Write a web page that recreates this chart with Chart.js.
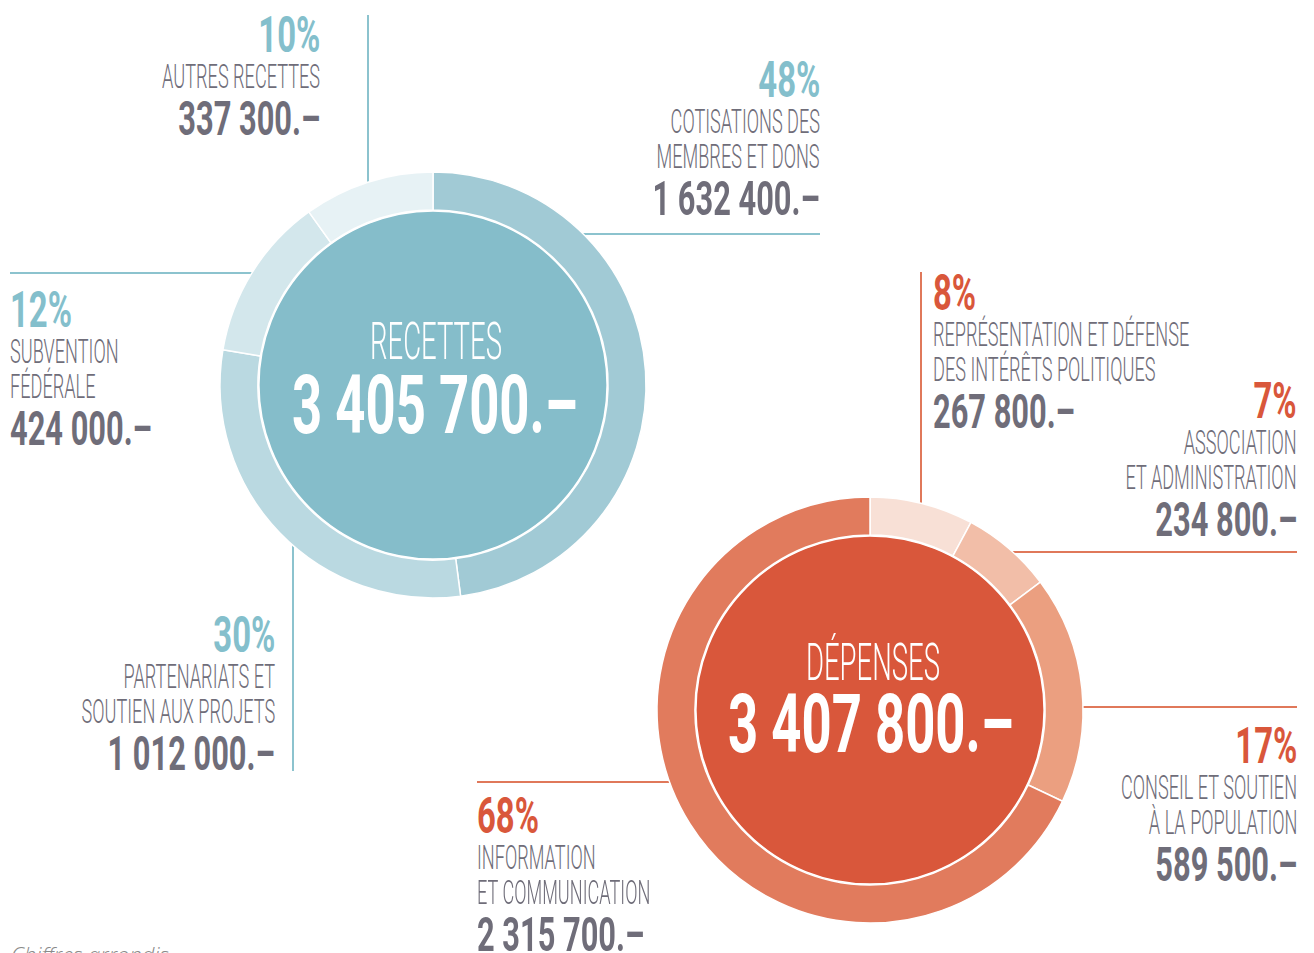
<!DOCTYPE html>
<html>
<head>
<meta charset="utf-8">
<script src="https://cdn.jsdelivr.net/npm/chart.js@4.4.1/dist/chart.umd.min.js"></script>
<style>
  body { margin: 0; background: #fff; width: 1314px; height: 953px; overflow: hidden; position: relative; font-family: Roboto, sans-serif; }
  .t { position: absolute; white-space: nowrap; }
  .ln { position: absolute; }
  canvas { position: absolute; }
</style>
</head>
<body>
<canvas id="rec" width="440" height="440" style="left:213px;top:165px"></canvas>
<canvas id="dep" width="440" height="440" style="left:650px;top:490px"></canvas>
<script>
// data
const recettesTitle = 'RECETTES';
const recettesLabels = [['COTISATIONS DES', 'MEMBRES ET DONS'], ['PARTENARIATS ET', 'SOUTIEN AUX PROJETS'], ['SUBVENTION', 'FÉDÉRALE'], ['AUTRES RECETTES']];
const recettesValues = [1632400, 1012000, 424000, 337300];

const depensesTitle = 'DÉPENSES';
const depensesLabels = [['REPRÉSENTATION ET DÉFENSE', 'DES INTÉRÊTS POLITIQUES'], ['ASSOCIATION', 'ET ADMINISTRATION'], ['CONSEIL ET SOUTIEN', 'À LA POPULATION'], ['INFORMATION', 'ET COMMUNICATION']];
const depensesValues = [267800, 234800, 589500, 2315700];

// colours
const recColors = ['#a1cad5', '#bad9e1', '#d3e7ec', '#e7f2f5'];
const recCenter = '#85bdca';
const recAccent = '#84bfcc';
const depColors = ['#f8e0d6', '#f2bea8', '#eb9f80', '#e17b5d'];
const depCenter = '#d9573b';
const depAccent = '#d9573b';
const grey = '#6f6d79';

function fmt(v) {
  return String(v).replace(/\B(?=(\d{3})+(?!\d))/g, ' ') + '.–';
}
function pct(v, arr) {
  const tot = arr.reduce((a, b) => a + b, 0);
  return Math.round(v / tot * 100) + '%';
}

// squeeze factor so Roboto looks like the condensed face of the original
const mctx = document.createElement('canvas').getContext('2d');
function squeeze(font, text, target) {
  mctx.font = font;
  return target / mctx.measureText(text).width;
}
const fLight = '300 34px Roboto';
const fPct = '700 50px Roboto';
const fAmt = '700 48px Roboto';
const fTitle = '300 52px Roboto';
const fBig = '700 82px Roboto';
const sLight = squeeze(fLight, 'AUTRES RECETTES', 158);
const sPct = squeeze(fPct, '10%', 62);
const sAmt = squeeze(fAmt, '337 300.–', 142);
const sTitle = squeeze(fTitle, 'RECETTES', 132);
const sBig = squeeze(fBig, '3 405 700.–', 286);

function text(str, x, baseline, align, font, size, scale, color) {
  const d = document.createElement('div');
  d.className = 't';
  d.textContent = str;
  d.style.font = font;
  d.style.lineHeight = size + 'px';
  d.style.color = color;
  d.style.top = (baseline - 0.8415 * size) + 'px';
  if (align === 'left') {
    d.style.left = x + 'px';
    d.style.transformOrigin = 'left';
  } else if (align === 'right') {
    d.style.right = (1314 - x) + 'px';
    d.style.transformOrigin = 'right';
    d.style.textAlign = 'right';
  } else {
    d.style.left = (x - 400) + 'px';
    d.style.width = '800px';
    d.style.textAlign = 'center';
    d.style.transformOrigin = 'center';
  }
  d.style.transform = 'scaleX(' + scale + ')';
  document.body.appendChild(d);
}

function line(x1, y1, x2, y2, color) {
  const d = document.createElement('div');
  d.className = 'ln';
  d.style.background = color;
  d.style.left = Math.min(x1, x2) + 'px';
  d.style.top = Math.min(y1, y2) + 'px';
  d.style.width = (x1 === x2 ? 1.5 : Math.abs(x2 - x1)) + 'px';
  d.style.height = (y1 === y2 ? 1.5 : Math.abs(y2 - y1)) + 'px';
  d.style.zIndex = -1;
  document.body.appendChild(d);
}

// label block placement: x, alignment, baseline of the percentage
const recLayout = [
  { x: 820, align: 'right', b: 97 },
  { x: 275, align: 'right', b: 652 },
  { x: 10, align: 'left', b: 327 },
  { x: 320, align: 'right', b: 52 }
];
const depLayout = [
  { x: 933, align: 'left', b: 310 },
  { x: 1297, align: 'right', b: 418 },
  { x: 1297, align: 'right', b: 763 },
  { x: 477, align: 'left', b: 833 }
];

function labels(names, values, layout, accent) {
  names.forEach((lines, i) => {
    const L = layout[i];
    let b = L.b;
    text(pct(values[i], values), L.x, b, L.align, fPct, 50, sPct, accent);
    lines.forEach((s, k) => {
      b += (k === 0 ? 36 : 35);
      text(s, L.x, b, L.align, fLight, 34, sLight, grey);
    });
    b += 47;
    text(fmt(values[i]), L.x, b, L.align, fAmt, 48, sAmt, grey);
  });
}

labels(recettesLabels, recettesValues, recLayout, recAccent);
labels(depensesLabels, depensesValues, depLayout, depAccent);

// leader lines
const teal = '#8cc3ce';
const red = '#e0785a';
line(367, 15, 367, 192, teal);
line(575, 233, 820, 233, teal);
line(10, 272, 262, 272, teal);
line(292, 538, 292, 771, teal);
line(920, 272, 920, 510, red);
line(1005, 551, 1297, 551, red);
line(1075, 706, 1297, 706, red);
line(477, 781, 677, 781, red);

// centre titles
text(recettesTitle, 436, 360, 'center', fTitle, 52, sTitle, '#fff');
text(fmt(recettesValues.reduce((a, b) => a + b, 0)), 435, 433, 'center', fBig, 82, sBig, '#fff');
text(depensesTitle, 873, 681, 'center', fTitle, 52, sTitle, '#fff');
text(fmt(depensesValues.reduce((a, b) => a + b, 0)), 871, 752, 'center', fBig, 82, sBig, '#fff');

// footnote
const note = document.createElement('div');
note.className = 't';
note.textContent = 'Chiffres arrondis';
note.style.cssText += 'left:11px;top:939px;font:italic 300 22px "Open Sans";color:#8a8a8a;';
document.body.appendChild(note);

// filled disc inside the ring
const centerDisc = {
  id: 'centerDisc',
  beforeDatasetsDraw(chart, args, opts) {
    const arc = chart.getDatasetMeta(0).data[0];
    const ctx = chart.ctx;
    ctx.save();
    ctx.beginPath();
    ctx.arc(arc.x, arc.y, arc.innerRadius - 1, 0, Math.PI * 2);
    ctx.fillStyle = opts.color;
    ctx.fill();
    ctx.lineWidth = 1.5;
    ctx.strokeStyle = '#fff';
    ctx.stroke();
    ctx.restore();
  }
};

function ring(id, names, values, colors, center) {
  new Chart(document.getElementById(id), {
    type: 'doughnut',
    data: {
      labels: names.map(l => l.join(' ')),
      datasets: [{
        data: values,
        backgroundColor: colors,
        borderColor: '#fff',
        borderWidth: 1.5
      }]
    },
    options: {
      responsive: false,
      animation: false,
      radius: 213,
      cutout: '82.2%',
      layout: { padding: 0 },
      plugins: {
        legend: { display: false },
        tooltip: { enabled: false },
        centerDisc: { color: center }
      }
    },
    plugins: [centerDisc]
  });
}

ring('rec', recettesLabels, recettesValues, recColors, recCenter);
ring('dep', depensesLabels, depensesValues, depColors, depCenter);
</script>
</body>
</html>
